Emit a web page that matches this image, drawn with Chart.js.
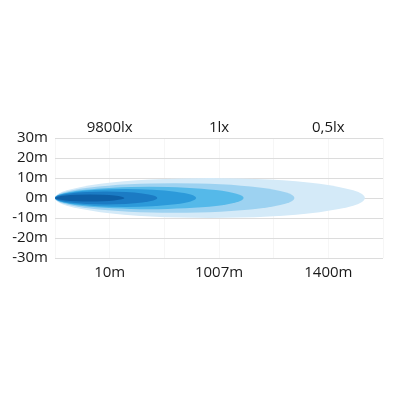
<!DOCTYPE html>
<html>
<head>
<meta charset="utf-8">
<script src="https://cdn.jsdelivr.net/npm/chart.js@4/dist/chart.umd.min.js"></script>
<style>
  html, body { margin: 0; padding: 0; background: #ffffff; }
  #wrap { width: 395px; height: 395px; }
</style>
</head>
<body>
<div id="wrap"><canvas id="c" width="395" height="395"></canvas></div>
<script>
// ---- data ----
const topLabels = ['9800lx', '1lx', '0,5lx'];
const bottomLabels = ['10m', '1007m', '1400m'];
const yTicks = [30, 20, 10, 0, -10, -20, -30];
// beam zones, outermost first (length in grid units, half width in m)
const beamLength = [5.67, 4.38, 3.45, 2.58, 1.87, 1.27];
const beamHalfWidth = [10, 7.4, 5.6, 4.5, 3.2, 1.7];
const beamColors = ['#d4eaf8', '#9dd2f1', '#55b9e9', '#2c9ada', '#1b7bc4', '#0e5fa6'];

const FONT = { family: '"Open Sans", "Liberation Sans", sans-serif', size: 15 };
const TXT = '#1a1a1a';

const beamPlugin = {
  id: 'beams',
  beforeDatasetsDraw(chart) {
    const xs = chart.scales.x, ys = chart.scales.y, ctx = chart.ctx;
    ctx.save();
    for (let i = 0; i < beamLength.length; i++) {
      const x0 = xs.getPixelForValue(0);
      const x1 = xs.getPixelForValue(beamLength[i]);
      const cy = ys.getPixelForValue(0);
      const ry = Math.abs(ys.getPixelForValue(beamHalfWidth[i]) - cy);
      ctx.beginPath();
      ctx.ellipse((x0 + x1) / 2, cy, (x1 - x0) / 2, ry, 0, 0, Math.PI * 2);
      ctx.fillStyle = beamColors[i];
      ctx.fill();
    }
    ctx.restore();
  }
};

new Chart(document.getElementById('c'), {
  type: 'scatter',
  data: { datasets: [] },
  plugins: [beamPlugin],
  options: {
    responsive: false,
    animation: false,
    layout: { padding: { left: 0, right: 12, top: 0, bottom: 97 } },
    plugins: { legend: { display: false }, tooltip: { enabled: false } },
    scales: {
      x: {
        type: 'linear', position: 'bottom', min: 0, max: 6,
        ticks: { display: false, stepSize: 1 },
        grid: { color: '#f6f6f6', drawTicks: false },
        border: { display: false },
        afterFit(s) { s.height = 0; }
      },
      xBottom: {
        type: 'category', position: 'bottom', labels: bottomLabels, offset: true,
        grid: { display: false, drawTicks: false }, border: { display: false },
        ticks: { font: FONT, color: TXT, padding: 6, maxRotation: 0, autoSkip: false },
        afterFit(s) { s.height = 40; }
      },
      xTop: {
        type: 'category', position: 'top', labels: topLabels, offset: true,
        grid: { display: false, drawTicks: false }, border: { display: false },
        ticks: { font: FONT, color: TXT, padding: 1, maxRotation: 0, autoSkip: false },
        afterFit(s) { s.height = 138; }
      },
      y: {
        type: 'linear', position: 'left', min: -30, max: 30,
        afterBuildTicks(s) { s.ticks = yTicks.map(v => ({ value: v })); },
        ticks: { font: FONT, color: TXT, padding: 7, autoSkip: false, callback: v => v + 'm' },
        grid: { color: '#dcdcdc', drawTicks: false },
        border: { display: false },
        afterFit(s) { s.width = 55; }
      }
    }
  }
});
</script>
</body>
</html>
